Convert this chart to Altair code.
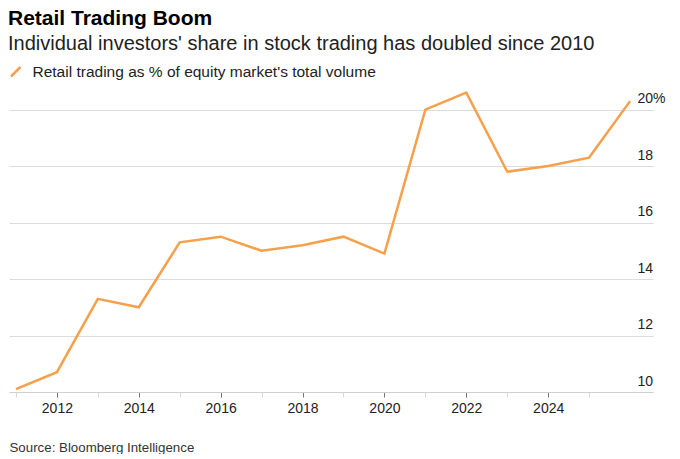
import altair as alt
import pandas as pd

years = [2011, 2012, 2013, 2014, 2015, 2016, 2017, 2018, 2019, 2020,
         2021, 2022, 2023, 2024, 2025, 2026]
share = [10.1, 10.7, 13.3, 13.0, 15.3, 15.5, 15.0, 15.2, 15.5, 14.9,
         20.0, 20.6, 17.8, 18.0, 18.3, 20.3]
series_name = "Retail trading as % of equity market's total volume"
x_ticks = list(range(2011, 2026))
y_ticks = [10, 12, 14, 16, 18, 20]

df = pd.DataFrame({"year": years, "share": share, "series": series_name})

ORANGE = "#f5a04b"
FONT = "Liberation Sans"

line = alt.Chart(df).mark_line(strokeWidth=2.5, strokeJoin="miter").encode(
    x=alt.X(
        "year:Q",
        scale=alt.Scale(domain=[2010.83, 2026.56], nice=False, zero=False),
        axis=alt.Axis(
            values=x_ticks,
            format="d",
            labelExpr="datum.value % 2 === 0 ? datum.label : ''",
            grid=False,
            domainColor="#d0d0d0",
            tickSize=5,
            tickColor={"condition": {"test": "datum.value % 2 === 0", "value": "#777777"},
                       "value": "#d8d8d8"},
            labelFontSize=14,
            labelColor="#222222",
            labelPadding=4,
            labelFlush=False,
            title="Source: Bloomberg Intelligence",
            titleFontSize=13.3,
            titleFontWeight="normal",
            titleColor="#333333",
            titleAnchor="start",
            titleAlign="left",
            titlePadding=25,
        ),
    ),
    y=alt.Y(
        "share:Q",
        scale=alt.Scale(domain=[10, 20.8], nice=False, zero=False),
        axis=alt.Axis(
            orient="right",
            values=y_ticks,
            labelExpr="datum.value === 20 ? datum.label + '%' : datum.label",
            domain=False,
            ticks=False,
            grid=True,
            gridColor="#dcdcdc",
            labelAlign="left",
            labelBaseline="alphabetic",
            labelPadding=-16,
            labelOffset=-7,
            labelFontSize=14,
            labelColor="#222222",
            labelFlush=False,
            title=None,
        ),
    ),
    color=alt.Color(
        "series:N",
        scale=alt.Scale(range=[ORANGE]),
        legend=alt.Legend(
            title=None,
            orient="none",
            legendX=-1,
            legendY=-23,
            symbolType="M-1,1L1,-1",
            symbolSize=90,
            symbolStrokeWidth=2.5,
            symbolFillColor="transparent",
            labelFontSize=15.5,
            labelColor="#222222",
            labelOffset=9,
            labelLimit=0,
            padding=0,
        ),
    ),
).properties(
    width=644,
    height=305,
    title=alt.TitleParams(
        text="Retail Trading Boom",
        subtitle="Individual investors' share in stock trading has doubled since 2010",
        anchor="start",
        fontSize=21,
        fontWeight="bold",
        color="#000000",
        subtitleFontSize=20,
        subtitleColor="#222222",
        subtitlePadding=5,
        offset=7,
        dy=-3,
        font=FONT,
        subtitleFont=FONT,
    ),
)

chart = line.configure(font=FONT, padding={"left": 0, "top": 0, "right": 0, "bottom": 0}).configure_view(stroke=None)

chart.save("out.html", embed_options={"renderer": "svg", "actions": False})
